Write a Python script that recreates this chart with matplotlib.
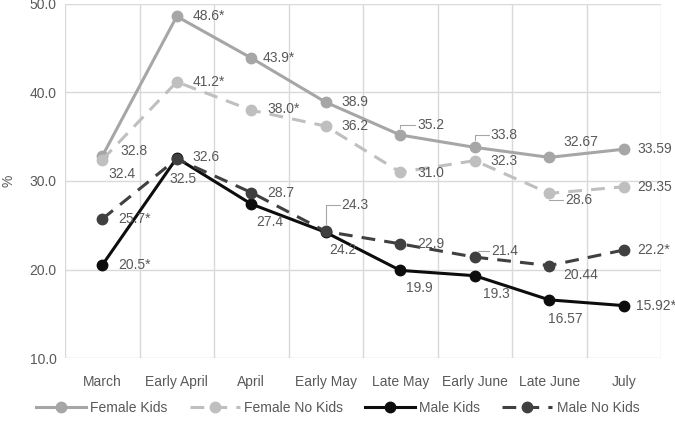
import matplotlib.pyplot as plt
import numpy as np

plt.rcParams['font.family'] = ['Liberation Sans', 'DejaVu Sans']

months = ['March', 'Early April', 'April', 'Early May', 'Late May', 'Early June', 'Late June', 'July']
female_kids = [32.8, 48.6, 43.9, 38.9, 35.2, 33.8, 32.67, 33.59]
female_nokids = [32.4, 41.2, 38.0, 36.2, 31.0, 32.3, 28.6, 29.35]
male_kids = [20.5, 32.6, 27.4, 24.2, 19.9, 19.3, 16.57, 15.92]
male_nokids = [25.7, 32.5, 28.7, 24.3, 22.9, 21.4, 20.44, 22.2]

fk_lab = ['32.8', '48.6*', '43.9*', '38.9', '35.2', '33.8', '32.67', '33.59']
fn_lab = ['32.4', '41.2*', '38.0*', '36.2', '31.0', '32.3', '28.6', '29.35']
mk_lab = ['20.5*', '32.6', '27.4', '24.2', '19.9', '19.3', '16.57', '15.92*']
mn_lab = ['25.7*', '32.5', '28.7', '24.3', '22.9', '21.4', '20.44', '22.2*']

# label offsets in pixels (dx, dy), leader flag
fk_off = [(18, 5), (16, 0), (11, 0), (16, 0), (17, 10), (16, 12), (14, 15), (14, 0)]
fn_off = [(6, -14), (16, 0), (16, 1), (16, 0), (17, -1), (16, 0), (16, -7), (14, 0)]
mk_off = [(16, 0), (16, 1), (5, -18), (4, -18), (6, -18), (8, -18), (-1, -19), (12, 0)]
mn_off = [(16, 0), (-7, -20), (16, 0), (16, 26), (17, 0), (16, 6), (14, -9), (14, 0)]
fk_lead = [0, 0, 0, 0, 1, 1, 0, 0]
fn_lead = [0, 0, 0, 0, 0, 0, 1, 0]
mn_lead = [0, 0, 0, 1, 0, 1, 0, 0]

txtc = '#595959'
fs = 10

fig = plt.figure(figsize=(6.75, 4.21), dpi=100)
ax = fig.add_axes([65/675, 1-358/421, 596/675, 354/421])
x = np.arange(len(months))

series = [
    (female_kids, fk_lab, fk_off, fk_lead, '#A6A6A6', '-', 'Female Kids'),
    (female_nokids, fn_lab, fn_off, fn_lead, '#BFBFBF', '--', 'Female No Kids'),
    (male_kids, mk_lab, mk_off, [0]*8, '#0D0D0D', '-', 'Male Kids'),
    (male_nokids, mn_lab, mn_off, mn_lead, '#404040', '--', 'Male No Kids'),
]

for vals, labs, offs, leads, col, ls, name in series:
    ln, = ax.plot(x, vals, color=col, lw=2.2, ls=ls, marker='o', ms=7.5, label=name, zorder=3)
    if ls == '--':
        ln.set_dashes((4.5, 3))

for vals, labs, offs, leads, col, ls, name in series:
    for i in range(len(vals)):
        dx, dy = offs[i]
        ax.annotate(labs[i], (x[i], vals[i]), xytext=(dx, dy), textcoords='offset pixels',
                    ha='left', va='center', fontsize=fs, color=txtc, zorder=5)
        if leads[i]:
            ax.annotate('', (x[i], vals[i]), xytext=(dx - 2, dy), textcoords='offset pixels',
                        arrowprops=dict(arrowstyle='-', color='#A6A6A6', lw=0.8,
                                        connectionstyle='angle,angleA=0,angleB=90,rad=0',
                                        shrinkA=0, shrinkB=5))

ax.set_xlim(-0.5, 7.5)
ax.set_ylim(10, 50)
ax.set_yticks([10, 20, 30, 40, 50])
ax.set_yticklabels(['10.0', '20.0', '30.0', '40.0', '50.0'])
ax.set_xticks(x)
ax.set_xticklabels(months)
ax.set_xticks(np.arange(-0.5, 8, 1), minor=True)
ax.grid(True, axis='y', color='#D9D9D9', lw=1)
ax.grid(True, axis='x', which='minor', color='#D9D9D9', lw=1)
ax.tick_params(axis='both', which='both', length=0, colors=txtc, labelsize=fs)
ax.tick_params(axis='x', pad=12)
ax.tick_params(axis='y', pad=6)
for s in ax.spines.values():
    s.set_visible(False)
ax.set_ylabel('%', fontsize=fs, color=txtc, labelpad=10)
ax.set_axisbelow(True)

fig.legend(loc='lower center', bbox_to_anchor=(0.5, -0.015), ncol=4, frameon=False,
           fontsize=fs, labelcolor=txtc, handlelength=3.6, columnspacing=1.6, handletextpad=0.3)

fig.savefig('out.png', dpi=100)
